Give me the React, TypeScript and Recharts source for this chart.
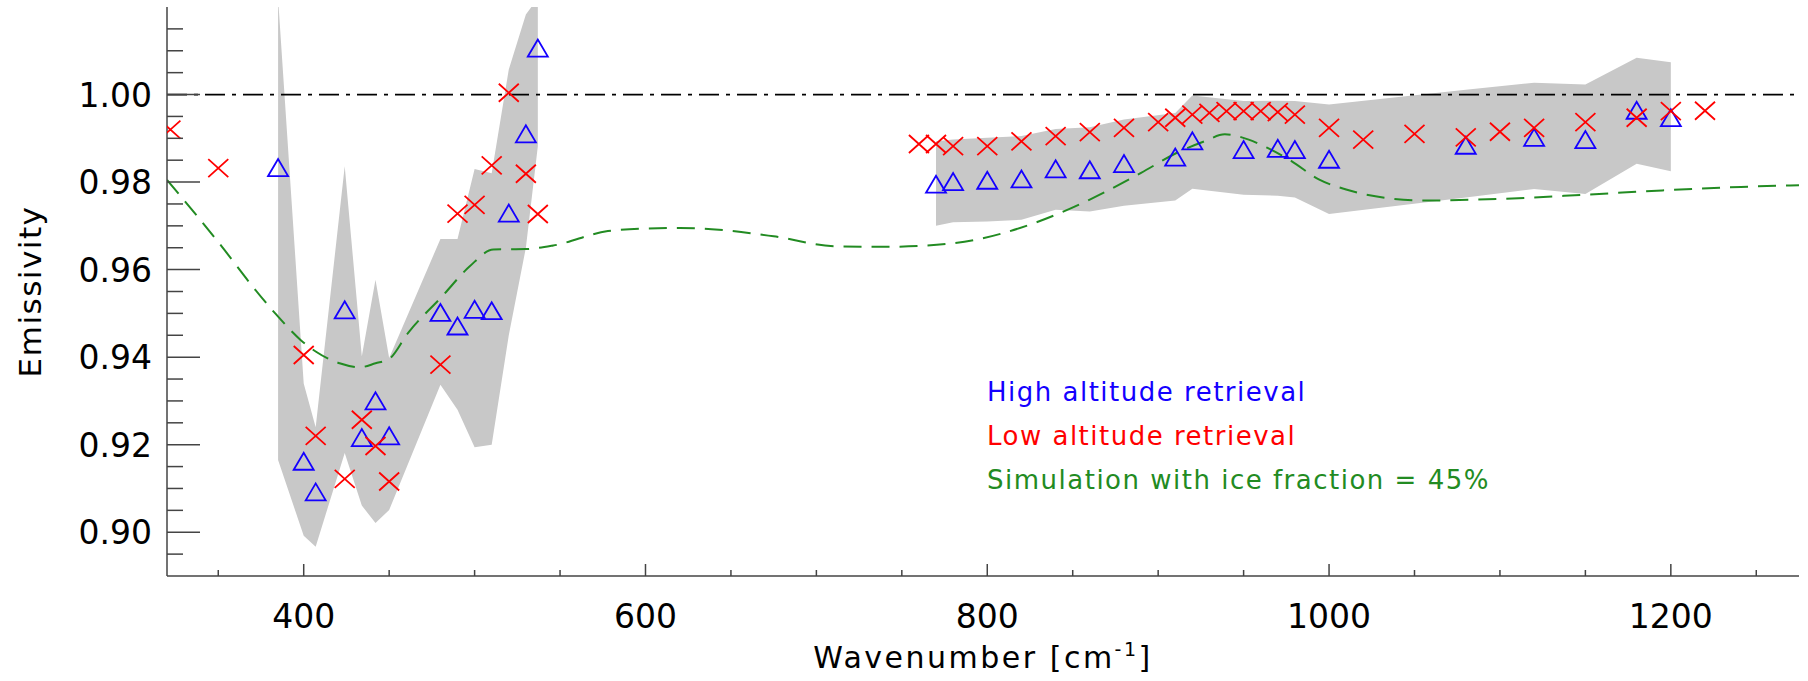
import React from "react";
import { Area, ComposedChart, Line, ReferenceLine, Scatter, XAxis, YAxis } from "recharts";

// axis ticks
const xTicks = [350, 400, 450, 500, 550, 600, 650, 700, 750, 800, 850, 900, 950, 1000, 1050, 1100, 1150, 1200, 1250];
const xMajor = [400, 600, 800, 1000, 1200];
const yTicks = [0.895, 0.9, 0.905, 0.91, 0.915, 0.92, 0.925, 0.93, 0.935, 0.94, 0.945, 0.95, 0.955, 0.96, 0.965, 0.97, 0.975, 0.98, 0.985, 0.99, 0.995, 1.0, 1.005, 1.01, 1.015];
const yMajor = [0.9, 0.92, 0.94, 0.96, 0.98, 1.0];

// high altitude retrieval (blue triangles)
const highX = [385, 400, 407, 424, 434, 442, 450, 480, 490, 500, 510, 520, 530, 537, 770, 780, 800, 820, 840, 860, 880, 910, 920, 950, 970, 980, 1000, 1080, 1120, 1150, 1180, 1200];
const highY = [0.9832, 0.9161, 0.9091, 0.9507, 0.9215, 0.9299, 0.9219, 0.9501, 0.947, 0.9508, 0.9505, 0.9728, 0.9909, 1.0105, 0.9794, 0.98, 0.9803, 0.9806, 0.9829, 0.9827, 0.9841, 0.9856, 0.9893, 0.9873, 0.9876, 0.9873, 0.9851, 0.9883, 0.9901, 0.9896, 0.9963, 0.9946];

// low altitude retrieval (red crosses)
const lowX = [322, 350, 400, 407, 424, 434, 442, 450, 480, 490, 500, 510, 520, 530, 537, 760, 770, 780, 800, 820, 840, 860, 880, 900, 910, 920, 930, 940, 950, 960, 970, 980, 1000, 1020, 1050, 1080, 1100, 1120, 1150, 1180, 1200, 1220];
const lowY = [0.992, 0.9832, 0.9405, 0.922, 0.9122, 0.9257, 0.9197, 0.9116, 0.9383, 0.9728, 0.9748, 0.9838, 1.0004, 0.9819, 0.9727, 0.9887, 0.9887, 0.9882, 0.9882, 0.9893, 0.9905, 0.9914, 0.9924, 0.9937, 0.9947, 0.9954, 0.9958, 0.9962, 0.9962, 0.9962, 0.996, 0.9954, 0.9924, 0.9897, 0.991, 0.9902, 0.9915, 0.9924, 0.9937, 0.9947, 0.9962, 0.9963];

// grey uncertainty envelope, two separate pieces
const band1X = [385, 400, 407, 424, 434, 442, 450, 480, 490, 500, 510, 520, 530, 537];
const band1Low = [0.9165, 0.8992, 0.8967, 0.9181, 0.9061, 0.9021, 0.9051, 0.9337, 0.928, 0.9194, 0.92, 0.945, 0.965, 0.9882];
const band1High = [1.022, 0.934, 0.924, 0.9836, 0.9402, 0.9577, 0.9398, 0.967, 0.967, 0.983, 0.982, 1.0057, 1.0183, 1.022];
const band2X = [770, 780, 800, 820, 840, 860, 880, 910, 920, 950, 970, 980, 1000, 1080, 1120, 1150, 1180, 1200];
const band2Low = [0.97, 0.9708, 0.971, 0.9714, 0.9737, 0.9733, 0.9746, 0.9758, 0.9785, 0.9771, 0.9769, 0.9765, 0.9727, 0.9765, 0.9784, 0.9773, 0.9842, 0.9825];
const band2High = [0.9893, 0.9897, 0.9901, 0.9905, 0.9921, 0.9925, 0.9943, 0.9958, 0.9998, 0.9985, 0.9986, 0.9985, 0.9977, 1.0011, 1.0027, 1.0023, 1.0084, 1.0074];

// simulation, ice fraction 45%
const simX = [320, 352, 370, 384, 398, 407, 421, 433, 442, 450, 461, 481, 497, 511, 530, 546, 578, 601, 620, 643, 675, 712, 740, 765, 793, 828, 860, 890, 911, 927, 939, 953, 964, 978, 994, 1010, 1033, 1056, 1103, 1149, 1195, 1241, 1275];
const simY = [0.9805, 0.9653, 0.9562, 0.9497, 0.944, 0.9413, 0.9386, 0.9377, 0.9386, 0.9396, 0.9455, 0.9539, 0.9607, 0.9646, 0.9647, 0.9655, 0.9688, 0.9694, 0.9695, 0.9691, 0.9676, 0.9653, 0.9652, 0.9655, 0.9668, 0.9707, 0.976, 0.9821, 0.9867, 0.9893, 0.9909, 0.9897, 0.9878, 0.9848, 0.9806, 0.9783, 0.9764, 0.9758, 0.9762, 0.9771, 0.9781, 0.9789, 0.9793];

const legendItems = [
  { label: "High altitude retrieval", color: "#1400ff" },
  { label: "Low altitude retrieval", color: "#ff0000" },
  { label: "Simulation with ice fraction = 45%", color: "#228b22" },
];

const highData = highX.map((x, i) => ({ x, y: highY[i] }));
const lowData = lowX.map((x, i) => ({ x, y: lowY[i] }));
const band1 = band1X.map((x, i) => ({ x, range: [band1Low[i], band1High[i]] }));
const band2 = band2X.map((x, i) => ({ x, range: [band2Low[i], band2High[i]] }));
const simData = simX.map((x, i) => ({ x, y: simY[i] }));

const FONT = "'DejaVu Sans', sans-serif";
const AXIS = "#444";
const isYMajor = (v: number) => yMajor.some((m) => Math.abs(m - v) < 1e-6);

function BottomTick({ x, y, payload }: any) {
  const major = xMajor.includes(payload.value);
  return (
    <g>
      <line x1={x} x2={x} y1={y} y2={y - (major ? 12 : 6)} stroke={AXIS} strokeWidth={1.5} />
      {major && (
        <text x={x} y={y + 52} textAnchor="middle" fontSize={33} fontFamily={FONT} fill="#000">
          {payload.value}
        </text>
      )}
    </g>
  );
}

function TopTick({ x, y, payload }: any) {
  const major = xMajor.includes(payload.value);
  return <line x1={x} x2={x} y1={y} y2={y + (major ? 12 : 6)} stroke={AXIS} strokeWidth={1.5} />;
}

function LeftTick({ x, y, payload }: any) {
  const major = isYMajor(payload.value);
  return (
    <g>
      <line x1={x} x2={x + (major ? 33 : 16)} y1={y} y2={y} stroke={AXIS} strokeWidth={1.5} />
      {major && (
        <text x={x - 15} y={y + 12} textAnchor="end" fontSize={33} fontFamily={FONT} fill="#000">
          {payload.value.toFixed(2)}
        </text>
      )}
    </g>
  );
}

function RightTick({ x, y, payload }: any) {
  const major = isYMajor(payload.value);
  return <line x1={x} x2={x - (major ? 33 : 16)} y1={y} y2={y} stroke={AXIS} strokeWidth={1.5} />;
}

function Triangle({ cx, cy }: any) {
  return (
    <polygon
      points={`${cx - 10},${cy + 8} ${cx},${cy - 9} ${cx + 10},${cy + 8}`}
      fill="none"
      stroke="#1400ff"
      strokeWidth={1.8}
    />
  );
}

function Cross({ cx, cy }: any) {
  return (
    <path
      d={`M${cx - 10},${cy - 9}L${cx + 10},${cy + 9}M${cx - 10},${cy + 9}L${cx + 10},${cy - 9}`}
      stroke="#ff0000"
      strokeWidth={1.8}
      fill="none"
    />
  );
}

export default function App() {
  return (
    <div style={{ position: "absolute", left: 0, top: 0, width: 1808, height: 681, background: "#fff" }}>
      <ComposedChart width={1808} height={681} margin={{ top: 7, right: 9, bottom: 0, left: 0 }}>
        <XAxis
          dataKey="x"
          type="number"
          domain={[320, 1275]}
          allowDataOverflow
          ticks={xTicks}
          interval={0}
          tick={BottomTick}
          tickLine={false}
          tickSize={0}
          tickMargin={0}
          height={105}
          axisLine={{ stroke: AXIS, strokeWidth: 1.5 }}
          label={{
            content: ({ viewBox }: any) => (
              <text
                x={viewBox.x + viewBox.width / 2}
                y={viewBox.y + 92}
                textAnchor="middle"
                fontSize={30}
                fontFamily={FONT}
                letterSpacing={2.5}
                fill="#000"
              >
                Wavenumber [cm
                <tspan dy={-12} fontSize={19}>
                  -1
                </tspan>
                <tspan dy={12}>]</tspan>
              </text>
            ),
          }}
        />
        <XAxis
          xAxisId="top"
          orientation="top"
          dataKey="x"
          type="number"
          domain={[320, 1275]}
          allowDataOverflow
          ticks={xTicks}
          interval={0}
          tick={TopTick}
          tickLine={false}
          tickSize={0}
          tickMargin={0}
          height={0}
          axisLine={{ stroke: AXIS, strokeWidth: 1.5 }}
        />
        <YAxis
          type="number"
          domain={[0.89, 1.02]}
          allowDataOverflow
          ticks={yTicks}
          interval={0}
          tick={LeftTick}
          tickLine={false}
          tickSize={0}
          tickMargin={0}
          width={167}
          axisLine={{ stroke: AXIS, strokeWidth: 1.5 }}
          label={{
            content: ({ viewBox }: any) => {
              const cx = 41;
              const cy = viewBox.y + viewBox.height / 2 + 0;
              return (
                <text
                  x={cx}
                  y={cy}
                  transform={`rotate(-90, ${cx}, ${cy})`}
                  textAnchor="middle"
                  fontSize={31}
                  fontFamily={FONT}
                  letterSpacing={1.5}
                  fill="#000"
                >
                  Emissivity
                </text>
              );
            },
          }}
        />
        <YAxis
          yAxisId="right"
          orientation="right"
          type="number"
          domain={[0.89, 1.02]}
          allowDataOverflow
          ticks={yTicks}
          interval={0}
          tick={RightTick}
          tickLine={false}
          tickSize={0}
          tickMargin={0}
          width={0}
          axisLine={{ stroke: AXIS, strokeWidth: 1.5 }}
        />
        <Area
          data={band1}
          dataKey="range"
          type="linear"
          stroke="none"
          fill="#c8c8c8"
          fillOpacity={1}
          dot={false}
          activeDot={false}
          isAnimationActive={false}
        />
        <Area
          data={band2}
          dataKey="range"
          type="linear"
          stroke="none"
          fill="#c8c8c8"
          fillOpacity={1}
          dot={false}
          activeDot={false}
          isAnimationActive={false}
        />
        <ReferenceLine y={1} stroke="#000" strokeWidth={1.8} strokeDasharray="20 7 4 7" />
        <Line
          data={simData}
          dataKey="y"
          type="monotone"
          stroke="#228b22"
          strokeWidth={2}
          strokeDasharray="18 10"
          dot={false}
          activeDot={false}
          isAnimationActive={false}
        />
        <Scatter data={highData} dataKey="y" shape={Triangle} isAnimationActive={false} />
        <Scatter data={lowData} dataKey="y" shape={Cross} isAnimationActive={false} />
      </ComposedChart>
      <div style={{ position: "absolute", left: 987, top: 370, fontFamily: FONT, fontSize: 26, lineHeight: "44px", letterSpacing: 1.5 }}>
        {legendItems.map((item) => (
          <div key={item.label} style={{ color: item.color, whiteSpace: "pre" }}>
            {item.label}
          </div>
        ))}
      </div>
    </div>
  );
}
